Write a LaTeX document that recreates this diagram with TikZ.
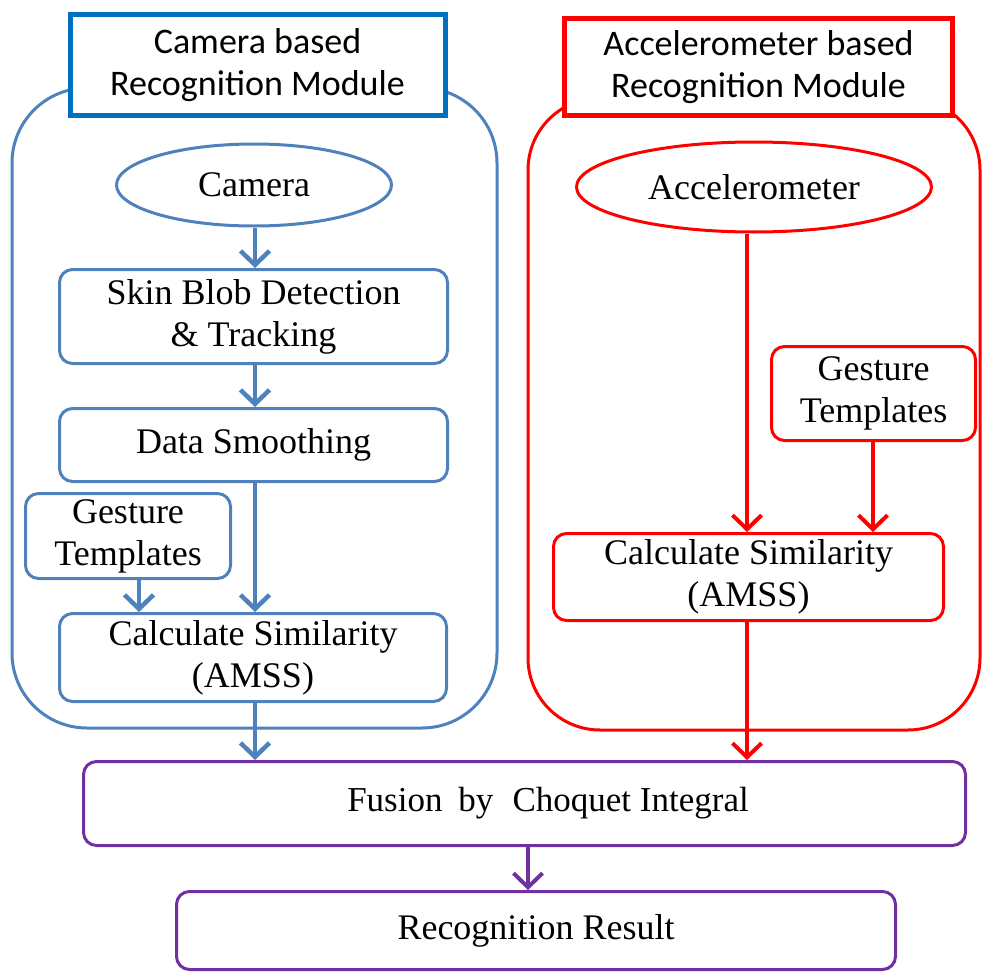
\documentclass[tikz,border=0pt]{standalone}
\usepackage{fontspec}
\setmainfont{Liberation Serif}
\newfontfamily\titlefont{Carlito}
\usetikzlibrary{arrows.meta,shapes.geometric}

\definecolor{camblue}{RGB}{79,129,189}
\definecolor{headblue}{RGB}{0,112,192}
\definecolor{accred}{RGB}{255,0,0}
\definecolor{fuspurple}{RGB}{112,48,160}

\tikzset{
  every node/.style={inner sep=0pt, align=center},
  txt/.style={font=\fontsize{36}{42}\selectfont},
  headbox/.style={draw, fill=white, line width=5pt, rectangle,
    font=\titlefont\fontsize{36}{42}\selectfont},
  procbox/.style={txt, draw, fill=white, line width=3pt, rectangle, rounded corners=13pt},
  srcell/.style={txt, draw, fill=white, line width=3pt, ellipse},
  container/.style={line width=3pt, rounded corners=75pt},
  flow/.style={line width=4.5pt, -{Straight Barb[length=14pt,width=29pt]}},
}

\begin{document}
\begin{tikzpicture}[x=1pt,y=-1pt]
\useasboundingbox (0,0) rectangle (983,974);

% module frames
\draw[container, camblue] (12,88) rectangle (497,728);
\draw[container, accred, rounded corners=72pt] (528,98) rectangle (980,730);

% module headings
\node[headbox, draw=headblue, minimum width=375pt, minimum height=101pt]
  (camTitle) at (257.5,65) {Camera based\\Recognition Module};
\node[headbox, draw=accred, minimum width=388pt, minimum height=97pt]
  (accTitle) at (758.5,67) {Accelerometer based\\Recognition Module};

% camera pipeline
\node[srcell, draw=camblue, minimum width=275pt, minimum height=82pt]
  (camera) at (254,185) {Camera};
\node[procbox, draw=camblue, minimum width=388pt, minimum height=94pt]
  (skin) at (253.5,316.5) {Skin Blob Detection\\\& Tracking};
\node[procbox, draw=camblue, minimum width=388pt, minimum height=73pt]
  (smooth) at (253.5,445) {Data Smoothing};
\node[procbox, draw=camblue, minimum width=205pt, minimum height=85pt]
  (gestL) at (128,536) {Gesture\\Templates};
\node[procbox, draw=camblue, minimum width=387pt, minimum height=88pt]
  (calcL) at (253,657.5) {Calculate Similarity\\(AMSS)};

% accelerometer pipeline
\node[srcell, draw=accred, minimum width=355pt, minimum height=90pt]
  (accel) at (754,187) {Accelerometer};
\node[procbox, draw=accred, minimum width=204pt, minimum height=94pt]
  (gestR) at (873.5,393.5) {Gesture\\Templates};
\node[procbox, draw=accred, minimum width=390pt, minimum height=87pt]
  (calcR) at (748.5,577) {Calculate Similarity\\(AMSS)};

% fusion stage (its label sits a little right of the box centre)
\node[procbox, draw=fuspurple, minimum width=882pt, minimum height=84pt,
  font=\fontsize{35}{42}\selectfont]
  (fusion) at (524.5,803.5)
  {\hspace*{47pt}Fusion\hspace{0.45em}by\hspace{0.55em}Choquet Integral};
\node[procbox, draw=fuspurple, minimum width=719pt, minimum height=78pt]
  (result) at (536,930.5) {Recognition Result};

% vertical guides for the arrows
\coordinate (xcam) at (255,0);
\coordinate (xgl) at (139,0);
\coordinate (xacc) at (747,0);
\coordinate (xgr) at (873,0);
\coordinate (xfus) at (528,0);

% camera connectors
\draw[flow, camblue] (camera.south -| xcam) -- (skin.north -| xcam);
\draw[flow, camblue] (skin.south -| xcam) -- (smooth.north -| xcam);
\draw[flow, camblue] (smooth.south -| xcam) -- (calcL.north -| xcam);
\draw[flow, camblue] (gestL.south -| xgl) -- (calcL.north -| xgl);
\draw[flow, camblue] (calcL.south -| xcam) -- (fusion.north -| xcam);

% accelerometer connectors
\draw[flow, accred, line width=4pt] (accel.south -| xacc) -- (calcR.north -| xacc);
\draw[flow, accred, line width=4pt] (gestR.south -| xgr) -- (calcR.north -| xgr);
\draw[flow, accred, line width=4pt] (calcR.south -| xacc) -- (fusion.north -| xacc);

% fusion to result
\draw[flow, fuspurple, line width=4pt] (fusion.south -| xfus) -- (result.north -| xfus);
\end{tikzpicture}
\end{document}
